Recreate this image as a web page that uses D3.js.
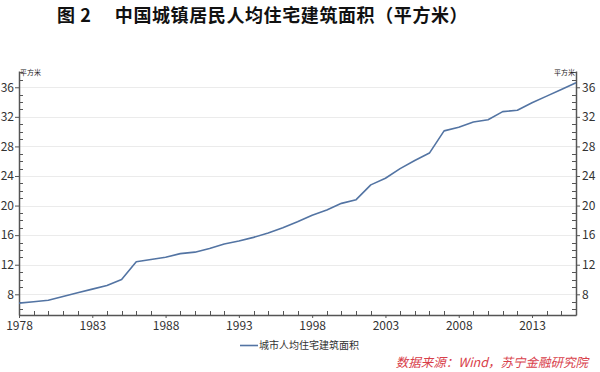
<!DOCTYPE html>
<html><head><meta charset="utf-8">
<script src="https://cdn.jsdelivr.net/npm/d3@7/dist/d3.min.js"></script>
<style>body{margin:0;background:#fff}svg{display:block}</style>
</head><body>
<svg id="c" width="600" height="372"></svg>
<script>
const years = d3.range(1978, 2017);
const areaValues = [6.8,7.0,7.2,7.7,8.2,8.7,9.2,10.0,12.4,12.7,13.0,13.5,13.7,14.2,14.8,15.2,15.7,16.3,17.0,17.8,18.7,19.4,20.3,20.8,22.8,23.7,25.0,26.1,27.1,30.1,30.6,31.3,31.6,32.7,32.9,33.9,34.8,35.7,36.6];
const yTicks = [8,12,16,20,24,28,32,36];
const xTicks = [1978,1983,1988,1993,1998,2003,2008,2013];
const seriesName = "城市人均住宅建筑面积";
const unitLabel = "平方米";
const titleText = "图 2\u3000 中国城镇居民人均住宅建筑面积（平方米）";
const sourceText = "数据来源：Wind，苏宁金融研究院";

const svg = d3.select("#c");
const L = 19, R = 576, T = 71, B = 315;
const x = d3.scaleLinear().domain([1978, 2016]).range([L, R]);
const y = d3.scaleLinear().domain([5.2, 38.2]).range([B, T]);
const font = "'Noto Sans CJK SC', 'Noto Sans', sans-serif";
const axisColor = "#555";

// title
svg.append("text").attr("x", 57).attr("y", 22).attr("font-family", "'Noto Sans CJK SC', sans-serif")
  .attr("font-weight", "bold").attr("font-size", 18).attr("letter-spacing", 0.6).attr("fill", "#111").text(titleText);

// grid
svg.append("g").selectAll("line").data(yTicks).join("line")
  .attr("x1", L).attr("x2", R).attr("y1", d => Math.round(y(d)) + 0.5).attr("y2", d => Math.round(y(d)) + 0.5)
  .attr("stroke", "#ebebeb").attr("stroke-width", 1);

// minor ticks
const minorY = d3.range(6, 39).filter(v => v % 4 !== 0);
const gMinor = svg.append("g").attr("stroke", axisColor).attr("stroke-width", 1);
gMinor.selectAll("line.l").data(minorY).join("line").attr("class","l")
  .attr("x1", L).attr("x2", L + 4).attr("y1", d => Math.round(y(d)) + 0.5).attr("y2", d => Math.round(y(d)) + 0.5);
gMinor.selectAll("line.r").data(minorY).join("line").attr("class","r")
  .attr("x1", R - 4).attr("x2", R).attr("y1", d => Math.round(y(d)) + 0.5).attr("y2", d => Math.round(y(d)) + 0.5);
const minorX = years.filter(v => (v - 1978) % 5 !== 0);
gMinor.selectAll("line.b").data(minorX).join("line").attr("class","b")
  .attr("x1", d => Math.round(x(d)) + 0.5).attr("x2", d => Math.round(x(d)) + 0.5).attr("y1", B).attr("y2", B - 4);

function styleAxis(g) {
  g.selectAll("path").attr("stroke", axisColor).attr("stroke-width", 1.5);
  g.selectAll("line").attr("stroke", axisColor);
  g.selectAll("text").attr("font-family", font).attr("font-size", 12).attr("fill", "#333");
}
svg.append("g").attr("transform", `translate(${L},0)`)
  .call(d3.axisLeft(y).tickValues(yTicks).tickSizeInner(4).tickSizeOuter(0).tickPadding(1))
  .call(styleAxis);
svg.append("g").attr("transform", `translate(${R},0)`)
  .call(d3.axisRight(y).tickValues(yTicks).tickSizeInner(4).tickSizeOuter(0).tickPadding(2))
  .call(styleAxis);
svg.append("g").attr("transform", `translate(0,${B})`)
  .call(d3.axisBottom(x).tickValues(xTicks).tickFormat(d3.format("d")).tickSizeInner(3).tickSizeOuter(0).tickPadding(3))
  .call(styleAxis);

// unit labels
svg.append("text").attr("x", L + 1).attr("y", 75).attr("font-family", font).attr("font-size", 7).attr("fill", "#222").text(unitLabel);
svg.append("text").attr("x", R - 1).attr("y", 75).attr("text-anchor", "end").attr("font-family", font).attr("font-size", 7).attr("fill", "#222").text(unitLabel);

// line
const data = years.map((yr, i) => ({yr, v: areaValues[i]}));
svg.append("path").datum(data)
  .attr("fill", "none").attr("stroke", "#5374a3").attr("stroke-width", 1.6).attr("stroke-linejoin", "round")
  .attr("d", d3.line().x(d => x(d.yr)).y(d => y(d.v)));

// legend
svg.append("line").attr("x1", 240).attr("x2", 258).attr("y1", 345.5).attr("y2", 345.5).attr("stroke", "#5374a3").attr("stroke-width", 1.6);
svg.append("text").attr("x", 259).attr("y", 349).attr("font-family", font).attr("font-size", 10).attr("fill", "#333").text(seriesName);

// source
svg.append("text").attr("x", 588).attr("y", 367).attr("text-anchor", "end").attr("font-family", font)
  .attr("font-style", "italic").attr("font-size", 12.5).attr("fill", "#d8404a").text(sourceText);
</script>
</body></html>
